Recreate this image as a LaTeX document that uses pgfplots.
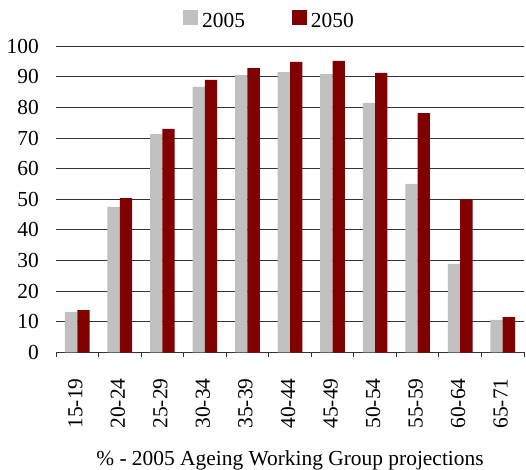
\documentclass[border=0pt]{standalone}
\usepackage{pgfplots}
\pgfplotsset{compat=1.18}
\usepackage{fontspec}
\setmainfont{Liberation Serif}
\definecolor{barA}{HTML}{C0C0C0}
\definecolor{barB}{HTML}{800000}
\pgfplotstableread{
x v2005 v2050
0 13.2 13.8
1 47.5 50.4
2 71.3 73.0
3 86.7 89.0
4 90.6 92.9
5 91.6 94.9
6 90.9 95.2
7 81.5 91.3
8 55.0 78.2
9 28.9 50.0
10 10.6 11.5
}\datatable
\begin{document}
\begin{tikzpicture}
\path[use as bounding box] (0,0) rectangle (526bp,470bp);
\begin{axis}[
  at={(56bp,117.7bp)}, anchor=south west,
  scale only axis, width=468bp, height=306bp,
  font=\fontsize{21.5}{24}\selectfont,
  ybar=0pt, bar width=12.33bp,
  xmin=-0.5, xmax=10.5, ymin=0, ymax=100,
  enlargelimits=false,
  axis x line*=bottom, axis y line*=left,
  y axis line style={draw=none},
  x axis line style={line width=0.9bp, black!80},
  xtick={0,...,10},
  xticklabels={15-19,20-24,25-29,30-34,35-39,40-44,45-49,50-54,55-59,60-64,65-71},
  minor xtick={-0.5,0.5,...,10.5},
  tick align=outside,
  major tick length=0pt, minor tick length=5bp,
  minor tick style={line width=0.9bp, black!80},
  xticklabel style={yshift=-26bp, xshift=-2bp, rotate=90, anchor=east, inner sep=0pt},
  ytick={0,10,...,100},
  ytick style={draw=none},
  yticklabel style={anchor=east, inner sep=0pt, xshift=-17bp},
  /pgf/number format/assume math mode=true,
  ymajorgrids, grid style={line width=0.9bp, black!80},
  xlabel={\% - 2005 Ageing Working Group projections},
  xlabel style={at={(axis description cs:0.5,0)}, anchor=base, yshift=-112.7bp, inner sep=0pt},
  legend columns=2,
  legend style={at={(axis description cs:0.454,1.091)}, anchor=center, draw=none, fill=none,
    inner sep=0pt, nodes={inner sep=0pt, text depth=0pt}, /tikz/every odd column/.append style={column sep=4bp},
    /tikz/every even column/.append style={column sep=47bp}},
]
\addplot[fill=barA, draw=none, legend image code/.code={\fill[barA] (0bp,-5bp) rectangle (15bp,10bp);}] table[x=x, y=v2005] {\datatable};
\addlegendentry{2005}
\addplot[fill=barB, draw=none, legend image code/.code={\fill[barB] (0bp,-5bp) rectangle (15bp,10bp);}] table[x=x, y=v2050] {\datatable};
\addlegendentry{2050}
\end{axis}
\end{tikzpicture}
\end{document}
